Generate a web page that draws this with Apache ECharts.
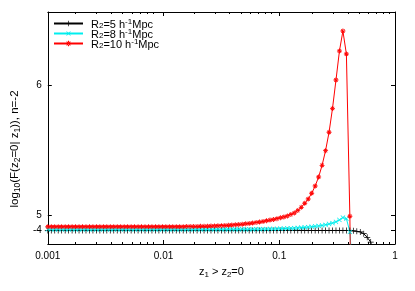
<!DOCTYPE html>
<html>
<head>
<meta charset="utf-8">
<script src="https://cdn.jsdelivr.net/npm/echarts@6/dist/echarts.min.js"></script>
<style>html,body{margin:0;padding:0;background:#fff}#c{width:415px;height:291px}</style>
</head>
<body>
<div id="c"></div>
<script>
const zValues = [
  0.001000,0.001072,0.001148,0.001230,0.001318,0.001413,0.001514,0.001622,0.001738,0.001862,
  0.001995,0.002138,0.002291,0.002455,0.002630,0.002818,0.003020,0.003236,0.003467,0.003715,
  0.003981,0.004266,0.004571,0.004898,0.005248,0.005623,0.006026,0.006457,0.006918,0.007413,
  0.007943,0.008511,0.009120,0.009772,
  0.01047,0.01122,0.01202,0.01288,0.01380,0.01479,0.01585,0.01698,0.01820,0.01950,
  0.02089,0.02239,0.02399,0.02570,0.02754,0.02951,0.03162,0.03388,0.03631,0.03890,
  0.04169,0.04467,0.04786,0.05129,0.05495,0.05888,0.06310,0.06761,0.07244,0.07762,
  0.08318,0.08913,0.09550,
  0.1023,0.1096,0.1175,0.1259,0.1349,0.1445,0.1549,0.1660,0.1778,0.1905,
  0.2042,0.2188,0.2344,0.2512,0.2692,0.2884,0.3090,0.3311,0.3548,0.3802,
  0.4074,0.4365,0.4677,0.5012,0.5370,0.5754,0.6166,0.6607,0.7079,0.7586,
  0.8128,0.8710,0.9333,1.0
];

// R2 = 5 h^-1 Mpc (black)
const seriesR5 = [
  4.881,4.881,4.881,4.881,4.881,4.881,4.881,4.881,4.881,4.881,
  4.881,4.881,4.881,4.881,4.881,4.881,4.881,4.881,4.881,4.881,
  4.881,4.881,4.881,4.881,4.881,4.881,4.881,4.881,4.881,4.881,
  4.881,4.881,4.881,4.881,4.881,4.881,4.881,4.881,4.881,4.881,
  4.881,4.881,4.881,4.881,4.881,4.881,4.881,4.881,4.881,4.881,
  4.881,4.881,4.881,4.881,4.881,4.881,4.881,4.881,4.881,4.881,
  4.881,4.881,4.881,4.881,4.881,4.881,4.881,4.881,4.881,4.881,
  4.881,4.881,4.881,4.881,4.881,4.881,4.881,4.881,4.881,4.881,
  4.881,4.881,4.881,4.881,4.881,4.881,4.881,4.880,4.878,4.875,
  4.870,4.856,4.828,4.792,4.680
];

// R2 = 8 h^-1 Mpc (cyan)
const seriesR8 = [
  4.890,4.890,4.890,4.890,4.890,4.890,4.890,4.890,4.890,4.890,
  4.890,4.890,4.890,4.890,4.890,4.890,4.890,4.890,4.890,4.890,
  4.890,4.890,4.890,4.890,4.890,4.890,4.890,4.890,4.890,4.890,
  4.890,4.890,4.890,4.890,4.890,4.890,4.890,4.890,4.890,4.890,
  4.890,4.890,4.890,4.890,4.890,4.890,4.890,4.890,4.890,4.890,
  4.890,4.890,4.890,4.890,4.890,4.890,4.890,4.890,4.890,4.890,
  4.891,4.891,4.892,4.892,4.893,4.893,4.894,4.895,4.896,4.897,
  4.898,4.899,4.901,4.903,4.905,4.907,4.910,4.913,4.916,4.920,
  4.925,4.931,4.938,4.948,4.962,4.980,4.972,4.870,4.500
];

// R2 = 10 h^-1 Mpc (red)
const seriesR10 = [
  4.910,4.910,4.910,4.910,4.910,4.910,4.910,4.910,4.910,4.910,
  4.910,4.910,4.910,4.910,4.910,4.910,4.910,4.910,4.910,4.910,
  4.910,4.910,4.910,4.910,4.910,4.910,4.910,4.910,4.910,4.910,
  4.910,4.910,4.910,4.910,4.910,4.910,4.910,4.910,4.910,4.910,
  4.911,4.911,4.912,4.912,4.913,4.913,4.914,4.915,4.916,4.917,
  4.918,4.920,4.921,4.923,4.925,4.927,4.929,4.932,4.935,4.938,
  4.942,4.946,4.951,4.956,4.961,4.966,4.972,4.978,4.985,4.993,
  5.003,5.016,5.034,5.059,5.090,5.123,5.167,5.223,5.292,5.382,
  5.495,5.636,5.820,6.038,6.262,6.415,6.238,4.990,3.000
];

const seriesNames = ['R2=5 h-1Mpc', 'R2=8 h-1Mpc', 'R2=10 h-1Mpc'];
const seriesLegendRich = [
  '{t|R}{sub|2}{t|=5 h}{sup|-1}{t|Mpc}',
  '{t|R}{sub|2}{t|=8 h}{sup|-1}{t|Mpc}',
  '{t|R}{sub|2}{t|=10 h}{sup|-1}{t|Mpc}'
];

const yTickValues = [4.882, 5, 6];
const yTickLabels = ['-4', '5', '6'];
const xMinorTicks = [0.002,0.003,0.004,0.005,0.006,0.007,0.008,0.009,
                     0.02,0.03,0.04,0.05,0.06,0.07,0.08,0.09,
                     0.2,0.3,0.4,0.5,0.6,0.7,0.8,0.9];
const xMin = 0.001, xMax = 1;
const yMin = 4.777, yMax = 6.5615;

const FONT = 'Liberation Sans, Arial, sans-serif';
function makeRich(fs, sfs, subPad, base) {
  return {
    t:   {fontSize: fs,  fontFamily: FONT, color: '#000', verticalAlign: 'top', lineHeight: fs, padding: [base,0,0,0]},
    sub: {fontSize: sfs, fontFamily: FONT, color: '#000', verticalAlign: 'top', lineHeight: sfs, padding: [subPad,0,0,0]},
    sup: {fontSize: sfs, fontFamily: FONT, color: '#000', verticalAlign: 'top', lineHeight: sfs, padding: [0,0,0,0]}
  };
}
const legendRich = makeRich(11, 8, 4, 1);
const xNameRich = makeRich(11, 8, 5, 1);
const yNameRich = makeRich(11.5, 8.5, 5, 1);

const plusPath = 'path://M-0.12,-1L0.12,-1L0.12,-0.12L1,-0.12L1,0.12L0.12,0.12L0.12,1L-0.12,1L-0.12,0.12L-1,0.12L-1,-0.12L-0.12,-0.12Z';
const starPath = 'path://M-0.18,-1L0.18,-1L0.18,-0.18L1,-0.18L1,0.18L0.18,0.18L0.18,1L-0.18,1L-0.18,0.18L-1,0.18L-1,-0.18L-0.18,-0.18Z' +
  'M-0.55,-0.8L0.8,0.55L0.55,0.8L-0.8,-0.55Z M-0.55,0.8L0.8,-0.55L0.55,-0.8L-0.8,0.55Z';

function pairs(vals) { return vals.map((v, i) => [zValues[i], v]); }

const chart = echarts.init(document.getElementById('c'), null, {renderer: 'canvas'});
const gridRect = {left: 40, top: 12, right: 20, bottom: 47};
const black = '#000';

chart.setOption({
  animation: false,
  backgroundColor: '#fff',
  grid: [Object.assign({}, gridRect), Object.assign({}, gridRect)],
  legend: {
    orient: 'vertical', left: 48, top: 13, padding: 5,
    itemWidth: 29, itemHeight: 7, itemGap: -2,
    data: seriesNames,
    formatter: name => seriesLegendRich[seriesNames.indexOf(name)],
    textStyle: {fontFamily: FONT, fontSize: 11, color: '#000', padding: [0,0,0,3], rich: legendRich}
  },
  xAxis: [
    {
      type: 'log', gridIndex: 0, position: 'bottom', min: xMin, max: xMax, logBase: 10,
      axisLine: {show: true, lineStyle: {color: black, width: 1}},
      axisTick: {show: true, inside: true, length: 4, lineStyle: {color: black}},
      axisLabel: {show: true, color: '#000', fontSize: 10, fontFamily: FONT, margin: 7, showMinLabel: true, showMaxLabel: true},
      splitLine: {show: false},
      name: '{t|z}{sub|1}{t| > z}{sub|2}{t|=0}',
      nameLocation: 'middle', nameGap: 21,
      nameTextStyle: {rich: xNameRich}
    },
    {
      type: 'log', gridIndex: 0, position: 'top', min: xMin, max: xMax, logBase: 10,
      axisLine: {show: true, lineStyle: {color: black, width: 1}},
      axisTick: {show: true, inside: true, length: 4, lineStyle: {color: black}},
      axisLabel: {show: false}, splitLine: {show: false}
    },
    {
      type: 'log', gridIndex: 1, position: 'bottom', min: xMin, max: xMax, logBase: 10,
      axisLine: {show: false},
      axisTick: {show: true, inside: true, length: 2, customValues: xMinorTicks, lineStyle: {color: black}},
      axisLabel: {show: false}, splitLine: {show: false}
    },
    {
      type: 'log', gridIndex: 1, position: 'top', min: xMin, max: xMax, logBase: 10,
      axisLine: {show: false},
      axisTick: {show: true, inside: true, length: 2, customValues: xMinorTicks, lineStyle: {color: black}},
      axisLabel: {show: false}, splitLine: {show: false}
    }
  ],
  yAxis: [
    {
      type: 'value', gridIndex: 0, position: 'left', min: yMin, max: yMax,
      axisLine: {show: true, lineStyle: {color: black, width: 1}},
      axisTick: {show: true, inside: true, length: 4, customValues: yTickValues, lineStyle: {color: black}},
      axisLabel: {show: true, color: '#000', fontSize: 10, fontFamily: FONT, margin: 6,
        customValues: yTickValues,
        formatter: v => yTickLabels[yTickValues.indexOf(v)] ?? ''},
      splitLine: {show: false},
      name: '{t|log}{sub|10}{t|(F(z}{sub|2}{t|=0| z}{sub|1}{t|)), n=-2}',
      nameLocation: 'middle', nameGap: 20, nameRotate: 90,
      nameTextStyle: {rich: yNameRich, padding: [0, 42, 0, 0]}
    },
    {
      type: 'value', gridIndex: 0, position: 'right', min: yMin, max: yMax,
      axisLine: {show: true, lineStyle: {color: black, width: 1}},
      axisTick: {show: true, inside: true, length: 4, customValues: yTickValues, lineStyle: {color: black}},
      axisLabel: {show: false}, splitLine: {show: false}
    },
    {
      type: 'value', gridIndex: 1, min: yMin, max: yMax, show: false
    }
  ],
  series: [
    {
      name: seriesNames[0], type: 'line', xAxisIndex: 0, yAxisIndex: 0,
      data: pairs(seriesR5), clip: true,
      symbol: plusPath, symbolSize: 6,
      lineStyle: {color: '#000', width: 1},
      itemStyle: {color: '#000'}
    },
    {
      name: seriesNames[1], type: 'line', xAxisIndex: 0, yAxisIndex: 0,
      data: pairs(seriesR8), clip: true,
      symbol: plusPath, symbolSize: 6, symbolRotate: 45,
      lineStyle: {color: '#00eeee', width: 1},
      itemStyle: {color: '#00eeee'}
    },
    {
      name: seriesNames[2], type: 'line', xAxisIndex: 0, yAxisIndex: 0,
      data: pairs(seriesR10), clip: true,
      symbol: starPath, symbolSize: 5,
      lineStyle: {color: '#ff0000', width: 1},
      itemStyle: {color: '#ff0000'}
    }
  ]
});
</script>
</body>
</html>
